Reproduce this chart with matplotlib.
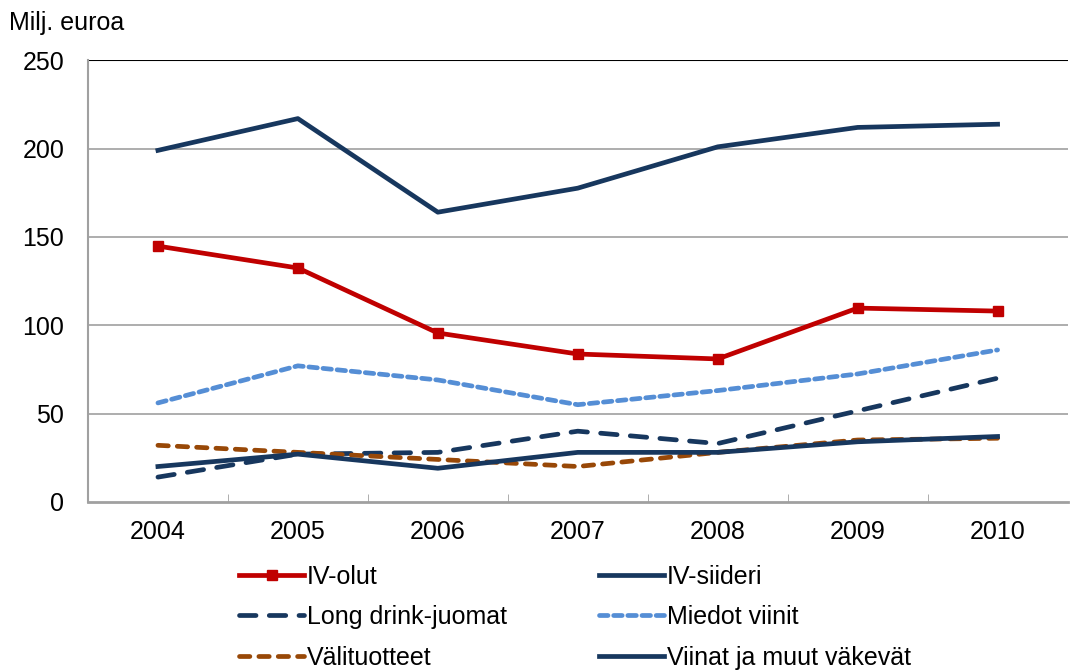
import numpy as np
import matplotlib.pyplot as plt

plt.rcParams['font.family'] = ['Liberation Sans', 'DejaVu Sans']

years = ['2004', '2005', '2006', '2007', '2008', '2009', '2010']
iv_olut = [144.8, 132.4, 95.6, 83.7, 80.9, 109.7, 108.0]
iv_siideri = [20, 27, 19, 28, 28, 34, 37]
long_drink = [14, 27, 28, 40, 33, 51.5, 70]
miedot = [56, 77, 69, 55, 63, 72.4, 86]
valituotteet = [32, 28, 24, 20, 28, 35, 36]
viinat = [199, 217, 164, 177.6, 201, 212, 213.8]

navy = '#17375E'
fig = plt.figure(figsize=(10.86, 6.70), dpi=100)
ax = fig.add_axes([0.081, 0.251, 0.902, 0.659])

x = np.arange(len(years)) + 0.5
lw = 3.4

l1, = ax.plot(x, iv_olut, color='#C00000', lw=lw, marker='s', ms=7.5, label='IV-olut', zorder=5)
l2, = ax.plot(x, iv_siideri, color=navy, lw=lw, label='IV-siideri', zorder=4)
l3, = ax.plot(x, long_drink, color=navy, lw=lw, dashes=(3.5, 2.8), label='Long drink-juomat',
              dash_capstyle='round', zorder=3)
l4, = ax.plot(x, miedot, color='#558ED5', lw=lw, dashes=(1.8, 1.2), label='Miedot viinit',
              dash_capstyle='round', zorder=3)
l5, = ax.plot(x, valituotteet, color='#984807', lw=lw, dashes=(2.2, 1.9), label='Välituotteet',
              dash_capstyle='round', zorder=3)
l6, = ax.plot(x, viinat, color=navy, lw=lw, label='Viinat ja muut väkevät', zorder=4)

ax.set_xlim(0, len(years))
ax.set_ylim(0, 250)
ax.set_yticks([0, 50, 100, 150, 200, 250])
ax.set_xticks(x)
ax.set_xticklabels(years)
ax.set_xticks(np.arange(1, len(years)), minor=True)
ax.tick_params(axis='x', which='major', length=0, pad=13, labelsize=18)
ax.tick_params(axis='x', which='minor', length=6, color='#A0A0A0', direction='in')
ax.tick_params(axis='y', length=0, pad=17, labelsize=18)
for v in [50, 100, 150, 200]:
    ax.axhline(v, color='#A0A0A0', lw=1.2, zorder=1)
ax.axhline(250, color='black', lw=1.5, zorder=1)

for s in ['top', 'right']:
    ax.spines[s].set_visible(False)
ax.spines['left'].set_color('#A0A0A0')
ax.spines['bottom'].set_color('#A0A0A0')
ax.spines['left'].set_linewidth(1.5)
ax.spines['bottom'].set_linewidth(2)

fig.text(0.008, 0.955, 'Milj. euroa', fontsize=18)

fig.legend([l1, l3, l5, l2, l4, l6],
           [h.get_label() for h in [l1, l3, l5, l2, l4, l6]],
           ncol=2, loc='upper left', bbox_to_anchor=(0.209, 0.176),
           frameon=False, fontsize=18, handlelength=2.6, handletextpad=0.1,
           columnspacing=3.7, labelspacing=0.66, borderpad=0)

fig.savefig('out.png', dpi=100)
